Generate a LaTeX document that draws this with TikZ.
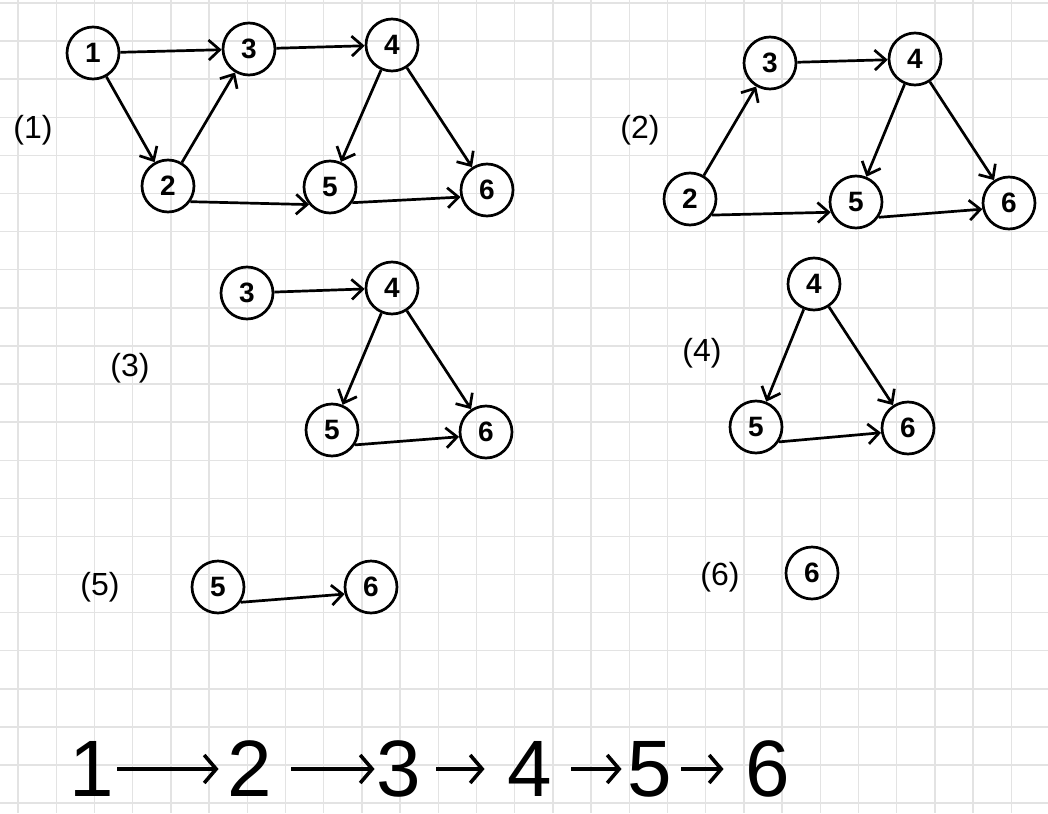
\documentclass[tikz,border=0pt]{standalone}
\usepackage{fontspec}
\setmainfont{Liberation Sans}
\usetikzlibrary{arrows.meta}
\begin{document}
\begin{tikzpicture}[x=1pt,y=-1pt,
  v/.style={circle,draw,line width=2.7pt,minimum size=52pt,inner sep=0pt,font=\fontsize{28}{28}\selectfont\bfseries},
  e/.style={line width=2.7pt,-{Straight Barb[length=11pt,width=20pt]}},
  lab/.style={font=\fontsize{32}{32}\selectfont,inner sep=0pt},
  big/.style={font=\fontsize{80}{80}\selectfont,inner sep=0pt},
  be/.style={line width=3.6pt,-{Straight Barb[length=12pt,width=28pt]}},
  gridline/.style={draw=black!11,line width=1.4pt}]
\fill[white] (0,0) rectangle (1048,813);
\useasboundingbox (0,0) rectangle (1048,813);
\foreach \i in {0,...,27} \draw[gridline] ({18+38.2*\i},0) -- ({18+38.2*\i},813);
\foreach \j in {0,...,21} \draw[gridline] (0,{3+38.1*\j}) -- (1048,{3+38.1*\j});

% (1)
\node[lab] (l1) at (33,130) {(1)};
\node[v] (a1) at (93,53) {1};
\node[v] (a3) at (249,49) {3};
\node[v] (a4) at (392,45) {4};
\node[v] (a2) at (168,186) {2};
\node[v] (a5) at (330,187) {5};
\node[v] (a6) at (487,190) {6};
\draw[e] (a1) -- (a3);
\draw[e] (a1) -- (a2);
\draw[e] (a2) -- (a3);
\draw[e] (a3) -- (a4);
\draw[e] (a4) -- (a5);
\draw[e] (a4) -- (a6);
\draw[e] (a2.-35) -- (a5.-140);
\draw[e] (a5.-35) -- (a6.195);

% (2)
\node[lab] (l2) at (640,130) {(2)};
\node[v] (b3) at (770,63) {3};
\node[v] (b4) at (915,59) {4};
\node[v] (b2) at (690,199) {2};
\node[v] (b5) at (856,202) {5};
\node[v] (b6) at (1009,203) {6};
\draw[e] (b2) -- (b3);
\draw[e] (b3) -- (b4);
\draw[e] (b4) -- (b5);
\draw[e] (b4) -- (b6);
\draw[e] (b2.-36) -- (b5.-158);
\draw[e] (b5.-34) -- (b6.193);

% (3)
\node[lab] (l3) at (130,368) {(3)};
\node[v] (c3) at (247,293) {3};
\node[v] (c4) at (392,288) {4};
\node[v] (c5) at (332,430) {5};
\node[v] (c6) at (486,432) {6};
\draw[e] (c3) -- (c4);
\draw[e] (c4) -- (c5);
\draw[e] (c4) -- (c6);
\draw[e] (c5.-33) -- (c6.190);

% (4)
\node[lab] (l4) at (702,353) {(4)};
\node[v] (d4) at (814,284) {4};
\node[v] (d5) at (756,427) {5};
\node[v] (d6) at (908,428) {6};
\draw[e] (d4) -- (d5);
\draw[e] (d4) -- (d6);
\draw[e] (d5.-33) -- (d6.190);

% (5)
\node[lab] (l5) at (100,587) {(5)};
\node[v] (e5) at (218,587) {5};
\node[v] (e6) at (371,587) {6};
\draw[e] (e5.-34) -- (e6.195);

% (6)
\node[lab] (l6) at (720,577) {(6)};
\node[v] (f6) at (812,573) {6};

% bottom sequence
\node[big] (s1) at (92,769) {1};
\node[big] (s2) at (250,769) {2};
\node[big] (s3) at (399,769) {3};
\node[big] (s4) at (530,769) {4};
\node[big] (s5) at (650,769) {5};
\node[big] (s6) at (768,769) {6};
\draw[be,shorten <=3pt,shorten >=9pt] (s1) -- (s2);
\draw[be,shorten <=19pt,shorten >=2pt] (s2) -- (s3);
\draw[be,shorten <=15pt,shorten >=23pt] (s3) -- (s4);
\draw[be,shorten <=19pt,shorten >=6pt] (s4) -- (s5);
\draw[be,shorten <=9pt,shorten >=22pt] (s5) -- (s6);
\end{tikzpicture}
\end{document}
